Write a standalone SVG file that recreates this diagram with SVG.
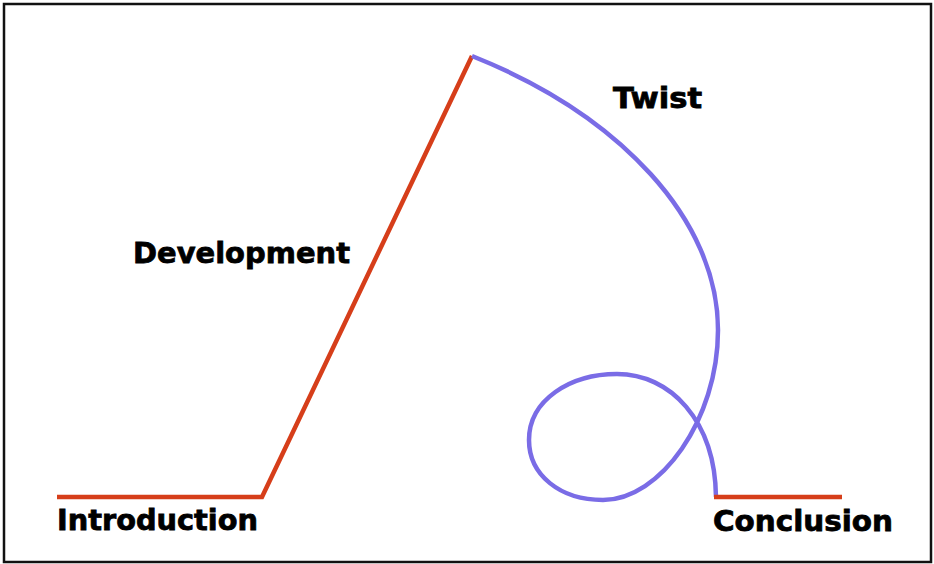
<svg xmlns="http://www.w3.org/2000/svg" width="934" height="564" viewBox="0 0 934 564">
<style>
.lbl{font-family:"DejaVu Sans","Verdana",sans-serif;font-weight:bold;font-size:29px;fill:#000;stroke:#000;stroke-width:0.8}
.red{fill:none;stroke:#D63E1A;stroke-width:4.5;stroke-linejoin:miter}
.blue{fill:none;stroke:#7A6CE6;stroke-width:4.5;stroke-linecap:butt}
</style>
<rect x="0" y="0" width="934" height="564" fill="#fff"/>
<rect x="4" y="4" width="927" height="558" fill="none" stroke="#111" stroke-width="2.5"/>
<g id="connectors">
<path class="red" d="M57,497 L262,497 L472,56"/>
<path class="blue" d="M472,56 C620,115 718,220 718,330 C718,420 660,500 603,500 C560,500 529,475 529,440 C529,400 570,374 617,374 C670,374 715,420 716,497"/>
<path class="red" d="M714,497 L842,497"/>
</g>
<g id="introduction"><text class="lbl" x="57" y="530" textLength="201" lengthAdjust="spacingAndGlyphs">Introduction</text></g>
<g id="development"><text class="lbl" x="133" y="263" textLength="217" lengthAdjust="spacingAndGlyphs">Development</text></g>
<g id="twist"><text class="lbl" x="613" y="108" textLength="89" lengthAdjust="spacingAndGlyphs">Twist</text></g>
<g id="conclusion"><text class="lbl" x="713" y="531" textLength="180" lengthAdjust="spacingAndGlyphs">Conclusion</text></g>
</svg>
